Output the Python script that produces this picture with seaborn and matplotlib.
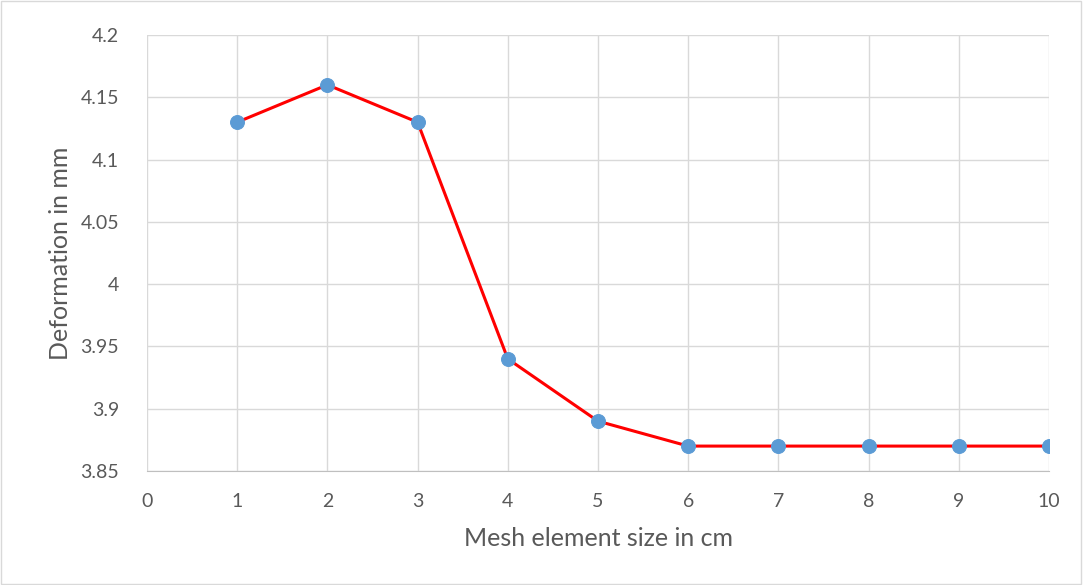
import matplotlib
matplotlib.use("Agg")
import matplotlib.pyplot as plt
import seaborn as sns
import pandas as pd

# mesh convergence data
mesh_size = [1, 2, 3, 4, 5, 6, 7, 8, 9, 10]
deformation = [4.13, 4.16, 4.13, 3.94, 3.89, 3.87, 3.87, 3.87, 3.87, 3.87]
x_ticks = list(range(0, 11))
y_ticks = [3.85, 3.9, 3.95, 4.0, 4.05, 4.1, 4.15, 4.2]
y_labels = ["3.85", "3.9", "3.95", "4", "4.05", "4.1", "4.15", "4.2"]

sns.set_style("white")
plt.rcParams['font.family'] = ['Lato', 'DejaVu Sans']

df = pd.DataFrame({"mesh": mesh_size, "deform": deformation})

fig = plt.figure(figsize=(10.83, 5.85), dpi=100)
ax = fig.add_axes([147 / 1083, 1 - 471 / 585, (1049 - 147) / 1083, (471 - 35) / 585])

sns.lineplot(data=df, x="mesh", y="deform", ax=ax, color="#ff0000", linewidth=2.2,
             marker="o", markersize=10, markerfacecolor="#5b9bd5",
             markeredgecolor="#5b9bd5", zorder=3)

ax.set_xlim(0, 10)
ax.set_ylim(3.85, 4.2)
ax.set_xticks(x_ticks)
ax.set_yticks(y_ticks)
ax.set_yticklabels(y_labels)
ax.grid(True, color="#d9d9d9", linewidth=1)
for side in ["top", "right", "left"]:
    ax.spines[side].set_visible(False)
ax.spines["bottom"].set_color("#bfbfbf")
ax.tick_params(axis="y", length=0, labelsize=14, colors="#595959", pad=20)
ax.tick_params(axis="x", length=0, labelsize=14, colors="#595959", pad=16)

ax.set_xlabel("Mesh element size in cm", fontsize=18, color="#595959", labelpad=12)
ax.set_ylabel("Deformation in mm", fontsize=18, color="#595959", labelpad=6)

# chart border
fig.patches.append(plt.Rectangle((0.001, 0.001), 0.997, 0.997, transform=fig.transFigure,
                                 fill=False, edgecolor="#d9d9d9", linewidth=1))

fig.savefig("out.png", dpi=100)
